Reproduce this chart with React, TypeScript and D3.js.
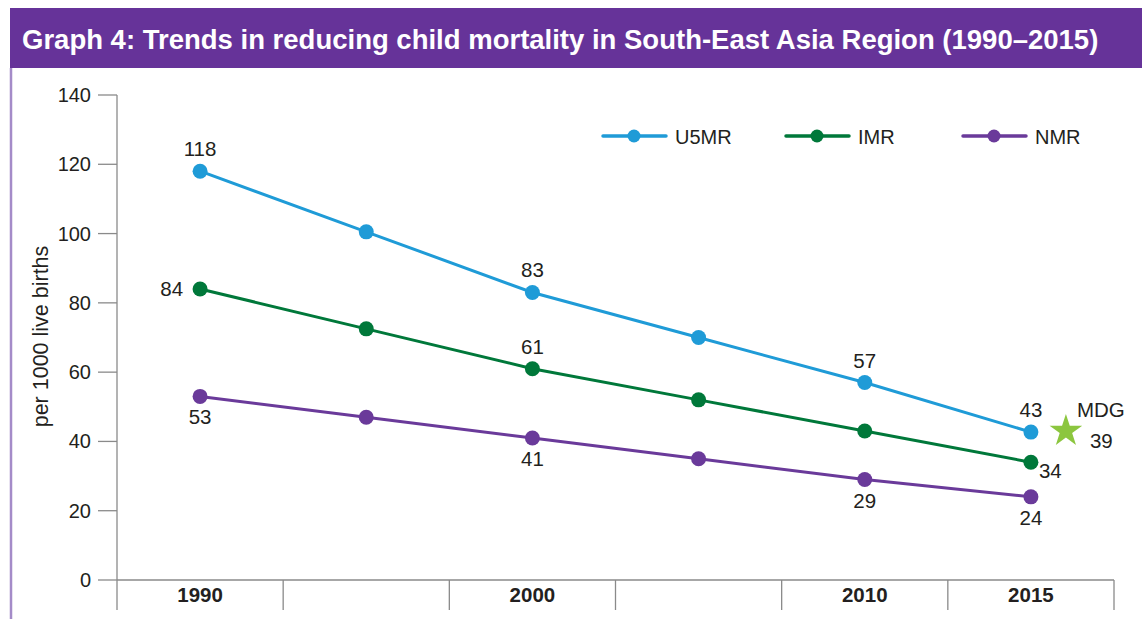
import * as d3 from 'd3';

const years = ['1990', '1995', '2000', '2005', '2010', '2015'];
const yearLabels = ['1990', '', '2000', '', '2010', '2015'];
const u5mr = [118, 100.5, 83, 70, 57, 42.7];
const imr = [84, 72.5, 61, 52, 43, 34];
const nmr = [53, 47, 41, 35, 29, 24];
const yTicks = [0, 20, 40, 60, 80, 100, 120, 140];
const mdgTarget = 43;
const mdgLabel = '39';

const colors = {
  purple: '#663399',
  border: '#a48bc8',
  u5mr: '#1f9bd7',
  imr: '#00783a',
  nmr: '#6a3a9a',
  star: '#8cc63f',
  axis: '#8a8a8a',
  text: '#231f20',
};

const font = '"Liberation Sans", Arial, Helvetica, sans-serif';

// which points carry a label and where it sits
const labelPos: Record<string, (string | null)[]> = {
  u5mr: ['above', null, 'above', null, 'above', 'above'],
  imr: ['left', null, 'above', null, null, 'belowRight'],
  nmr: ['below', null, 'below', null, 'below', 'below'],
};

export default function App() {
  const width = 1142;
  const height = 619;

  const x = d3.scaleBand().domain(years).range([117, 1114]);
  const y = d3.scaleLinear().domain([0, 140]).range([580, 95]);
  const cx = (yr: string) => x(yr)! + x.bandwidth() / 2;

  const line = d3
    .line<number>()
    .x((_, i) => cx(years[i]))
    .y(d => y(d));

  const series = [
    { key: 'u5mr', name: 'U5MR', values: u5mr, color: colors.u5mr },
    { key: 'imr', name: 'IMR', values: imr, color: colors.imr },
    { key: 'nmr', name: 'NMR', values: nmr, color: colors.nmr },
  ];

  const legendX = [603, 786, 963];

  const labelOffset = (pos: string) => {
    if (pos === 'above') return { dx: 0, dy: -15, anchor: 'middle' };
    if (pos === 'below') return { dx: 0, dy: 28, anchor: 'middle' };
    if (pos === 'left') return { dx: -17, dy: 7, anchor: 'end' };
    return { dx: 8, dy: 16, anchor: 'start' };
  };

  const star = d3.symbol().type(d3.symbolStar).size(330)();
  const starX = cx('2015') + 35;

  return (
    <svg
      width={width}
      height={height}
      style={{ position: 'absolute', left: 0, top: 0, fontFamily: font }}
    >
      <rect x={0} y={0} width={width} height={height} fill="#fff" />
      <rect x={10} y={8} width={width - 10} height={60} fill={colors.purple} />
      <text x={22} y={49} fill="#fff" fontSize={27.5} fontWeight="bold">
        Graph 4: Trends in reducing child mortality in South-East Asia Region (1990–2015)
      </text>
      <line x1={11} x2={11} y1={68} y2={height} stroke={colors.border} strokeWidth={2.5} />

      {/* y axis */}
      <line x1={117} x2={117} y1={y(140)} y2={610} stroke={colors.axis} strokeWidth={1.3} />
      {yTicks.map(t => (
        <g key={t}>
          <line x1={98} x2={117} y1={y(t)} y2={y(t)} stroke={colors.axis} strokeWidth={1.3} />
          <text x={91} y={y(t) + 7} textAnchor="end" fontSize={20} fill={colors.text}>
            {t}
          </text>
        </g>
      ))}
      <text
        transform={`translate(48,${y(70) - 1}) rotate(-90)`}
        textAnchor="middle"
        fontSize={21.5}
        fill={colors.text}
      >
        per 1000 live births
      </text>

      {/* x axis */}
      <line x1={117} x2={1114} y1={y(0)} y2={y(0)} stroke={colors.axis} strokeWidth={1.3} />
      {years.map((yr, i) => (
        <g key={yr}>
          <line
            x1={x(yr)! + x.bandwidth()}
            x2={x(yr)! + x.bandwidth()}
            y1={y(0)}
            y2={610}
            stroke={colors.axis}
            strokeWidth={1.3}
          />
          <text x={cx(yr)} y={602} textAnchor="middle" fontSize={20.5} fontWeight="bold" fill={colors.text}>
            {yearLabels[i]}
          </text>
        </g>
      ))}

      {/* lines */}
      {series.map(s => (
        <g key={s.key}>
          <path d={line(s.values)!} fill="none" stroke={s.color} strokeWidth={3} />
          {s.values.map((v, i) => (
            <circle key={i} cx={cx(years[i])} cy={y(v)} r={7.5} fill={s.color} />
          ))}
          {s.values.map((v, i) => {
            const pos = labelPos[s.key][i];
            if (!pos) return null;
            const o = labelOffset(pos);
            return (
              <text
                key={'l' + i}
                x={cx(years[i]) + o.dx}
                y={y(v) + o.dy}
                textAnchor={o.anchor}
                fontSize={20.5}
                fill={colors.text}
              >
                {Math.round(v)}
              </text>
            );
          })}
        </g>
      ))}

      {/* MDG target */}
      <path d={star!} transform={`translate(${starX},${y(mdgTarget)})`} fill={colors.star} />
      <text x={starX + 11} y={y(mdgTarget) - 14} fontSize={20.5} fill={colors.text}>
        MDG
      </text>
      <text x={starX + 24} y={y(mdgTarget) + 17} fontSize={20.5} fill={colors.text}>
        {mdgLabel}
      </text>

      {/* legend */}
      {series.map((s, i) => (
        <g key={'leg' + s.key} transform={`translate(${legendX[i]},136)`}>
          <line x1={0} x2={63} y1={0} y2={0} stroke={s.color} strokeWidth={3.5} strokeLinecap="round" />
          <circle cx={31} cy={0} r={6.5} fill={s.color} />
          <text x={72} y={7.5} fontSize={20} fill={colors.text}>
            {s.name}
          </text>
        </g>
      ))}
    </svg>
  );
}
